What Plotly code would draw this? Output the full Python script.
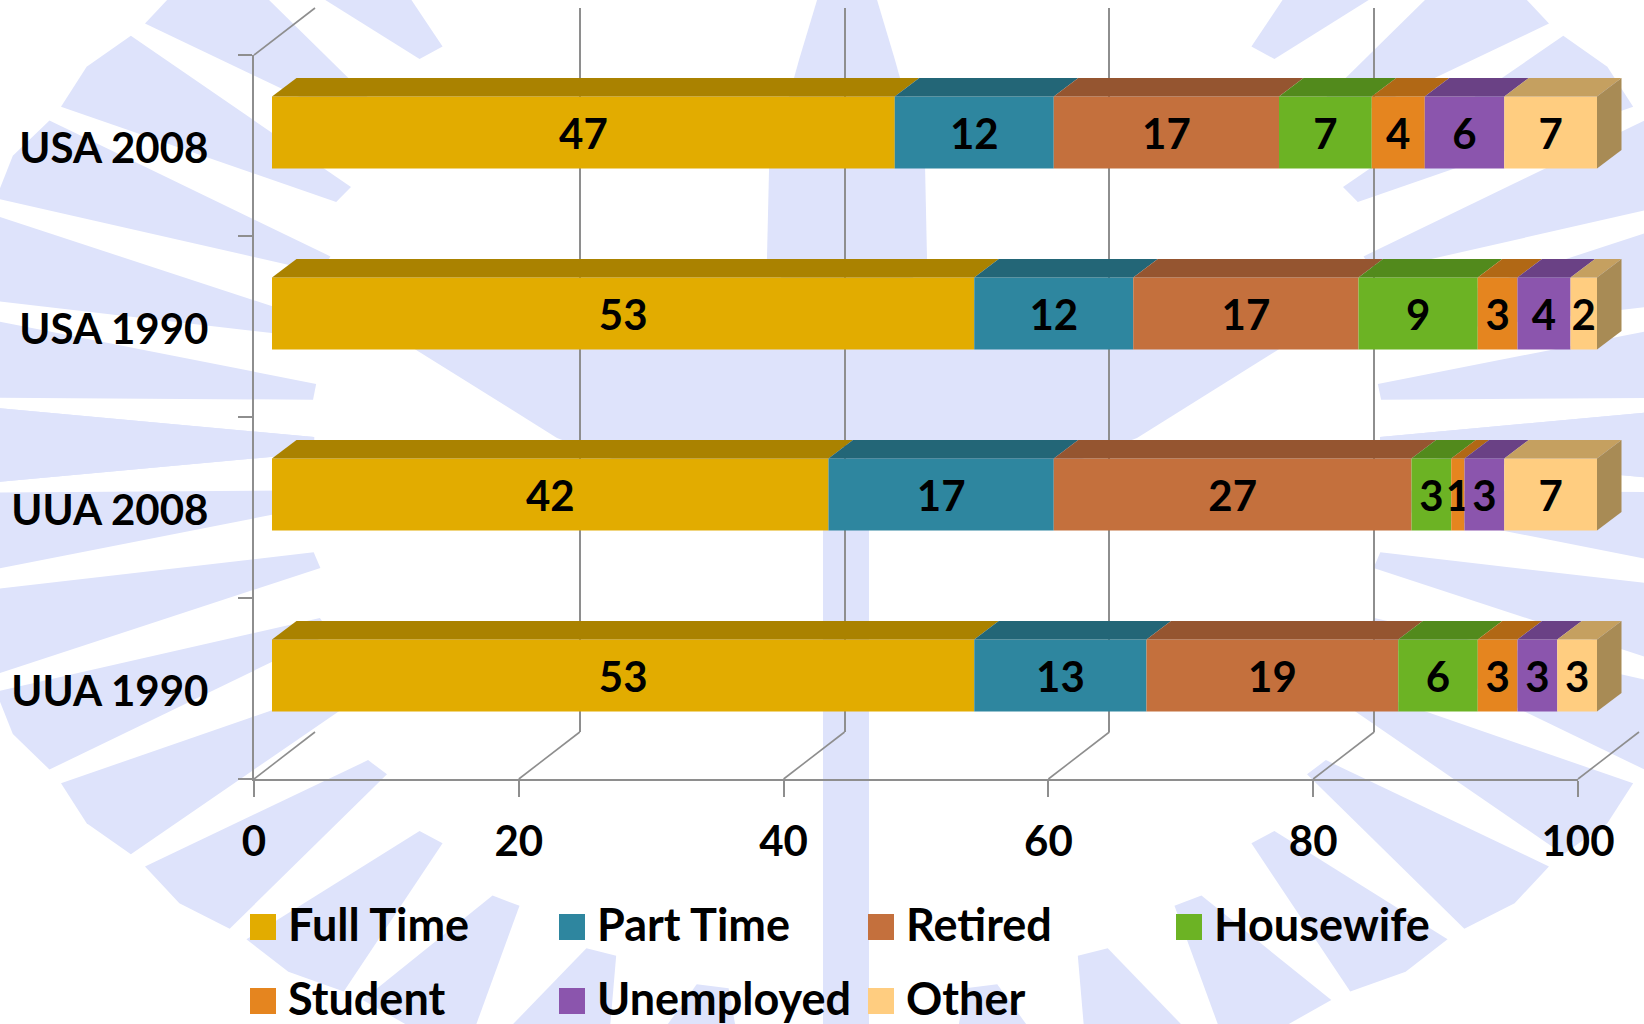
import math
import plotly.graph_objects as go

W, H = 1644, 1024
categories = ["UUA 1990", "UUA 2008", "USA 1990", "USA 2008"]
series_names = ["Full Time", "Part Time", "Retired", "Housewife", "Student", "Unemployed", "Other"]
full_time = [53, 42, 53, 47]
part_time = [13, 17, 12, 12]
retired = [19, 27, 17, 17]
housewife = [6, 3, 9, 7]
student = [3, 1, 3, 4]
unemployed = [3, 3, 4, 6]
other = [3, 7, 2, 7]
x_ticks = [0, 20, 40, 60, 80, 100]
front_colors = ["#E2AC00", "#2E869F", "#C4703D", "#6CB324", "#E5851F", "#8B55AD", "#FFCD80"]
top_colors = ["#AA8200", "#236677", "#955530", "#528A1C", "#B16815", "#6A4185", "#C5A060"]
side_color = "#A88B55"
series = [full_time, part_time, retired, housewife, student, unemployed, other]

FONT = "Lato"
GRID = "#8E8E8E"
WM = "#DEE3FB"

def fx(p): return p / W
def fy(p): return 1 - p / H
def dom_x(a, b): return [fx(a), fx(b)]
def dom_y(top, bot): return [fy(bot), fy(top)]

fig = go.Figure()
shapes = []

# watermark (seal) behind the chart
CX, CY, RX, RY = 847, 445, 919, 653
def poly(points):
    return "M " + " L ".join(f"{fx(x):.4f},{fy(y):.4f}" for x, y in points) + " Z"
def wm(points):
    shapes.append(dict(type="path", xref="paper", yref="paper", path=poly(points),
                       fillcolor=WM, line_width=0, layer="below"))
def pt(alpha, f, sx, sy):
    a = math.radians(alpha)
    return (CX + sx * RX * f * math.cos(a), CY + sy * RY * f * math.sin(a))
for k in range(0, 10):
    alpha = max(9 * k - 1, 0)
    f = 0.58 + 0.27 * math.sin(math.radians(alpha)) ** 2
    for sx in (-1, 1):
        for sy in (-1, 1):
            wm([pt(alpha - 1.2, f, sx, sy), pt(alpha + 1.2, f, sx, sy),
                pt(alpha + 3.8, 1, sx, sy), pt(alpha, 1.01, sx, sy), pt(alpha - 3.8, 1, sx, sy)])
# central shapes: vertical bar, bowl and flame
wm([(823, 500), (869, 500), (869, 1024), (823, 1024)])
bowl = [(300, 470), (348, 434), (438, 290), (480, 180), (505, 50)]
wm([(CX - h, y) for y, h in bowl] + [(CX + h, y) for y, h in reversed(bowl)])
flame = [(0, 30), (60, 48), (168, 78), (260, 80), (285, 60)]
wm([(CX - h, y) for y, h in flame] + [(CX + h, y) for y, h in reversed(flame)])

# diagonal floor and wall edges
DX, DY = 61, -47
X0, X1 = 254, 1578
FLOOR, TOP = 779, 55
def line(x0, y0, x1, y1, w=1.6):
    return dict(type="line", xref="paper", yref="paper", x0=fx(x0), y0=fy(y0), x1=fx(x1), y1=fy(y1),
                line=dict(color=GRID, width=w), layer="below")
for t in x_ticks:
    px = X0 + (X1 - X0) * t / 100
    shapes.append(line(px, FLOOR, px + DX, FLOOR + DY))
shapes.append(line(X0, TOP, X0 + DX, TOP + DY))

# back wall: gridlines only
ax_common = dict(showticklabels=False, zeroline=False, ticks="", fixedrange=True, automargin=False)
fig.add_trace(go.Scatter(x=[], y=[], xaxis="x", yaxis="y", showlegend=False))
PER = (1597 - 272) / 100
BAR_RANGE = 103
LABEL_NUDGE = 0.014
layout_axes = dict(
    xaxis=dict(domain=dom_x(X0 + DX, X1 + DX), range=[0, 100], anchor="y", showgrid=True, gridcolor=GRID,
               gridwidth=1.6, tickvals=x_ticks, showline=False, **ax_common),
    yaxis=dict(domain=dom_y(TOP + DY, FLOOR + DY), range=[0, 1], anchor="x", showgrid=False, showline=False, **ax_common),
    # front axes with ticks and labels
    xaxis2=dict(domain=dom_x(X0, X1), range=[0, 100], anchor="y2", tickvals=x_ticks, ticks="outside", ticklen=16,
                tickwidth=1.6, tickcolor=GRID, showline=True, linecolor=GRID, linewidth=2.4, showgrid=False, zeroline=False,
                tickfont=dict(family=FONT, size=42, color="#000000", weight="bold"), ticklabelstandoff=8,
                fixedrange=True, automargin=False),
    yaxis2=dict(domain=dom_y(TOP, FLOOR), range=[-0.5, 3.5], anchor="x2",
                tickvals=[i - LABEL_NUDGE for i in range(4)], ticktext=categories,
                ticks="", showline=True, linecolor=GRID, linewidth=2.4, showgrid=False, zeroline=False,
                tickfont=dict(family=FONT, size=42, color="#000000", weight="bold"), ticklabelstandoff=35,
                fixedrange=True, automargin=False,
                minor=dict(tickvals=[-0.5, 0.5, 1.5, 2.5, 3.5], ticks="outside", ticklen=14, tickwidth=1.6, tickcolor=GRID)),
    # shifted plane that holds the bars
    xaxis3=dict(domain=dom_x(272, 272 + PER * BAR_RANGE), range=[0, BAR_RANGE], anchor="y3", visible=False,
                fixedrange=True, automargin=False),
    yaxis3=dict(domain=dom_y(TOP - 13, FLOOR - 13), range=[-0.5, 3.5], anchor="x3", visible=False,
                fixedrange=True, automargin=False),
)
fig.add_trace(go.Scatter(x=[], y=[], xaxis="x2", yaxis="y2", showlegend=False))

BAR_W = 72 / 181
ODX = 24.5 / PER
ODY = 18.5 / 181
ypos = list(range(len(categories)))
base = [0] * len(categories)
for name, vals, fc, tc in zip(series_names, series, front_colors, top_colors):
    fig.add_trace(go.Bar(x=vals, y=ypos, base=base, orientation="h", name=name, width=BAR_W, xaxis="x3", yaxis="y3",
                         marker=dict(color=fc, line_width=0), text=vals, textposition="inside", textangle=0,
                         insidetextanchor="middle", constraintext="none", showlegend=False,
                         textfont=dict(family=FONT, size=42, color="#000000", weight="bold")))
    for yi, b, v in zip(ypos, base, vals):
        t = yi + BAR_W / 2
        fig.add_trace(go.Scatter(x=[b, b + v, b + v + ODX, b + ODX, b], y=[t, t, t + ODY, t + ODY, t], mode="lines",
                                 fill="toself", fillcolor=tc, line=dict(width=0), xaxis="x3", yaxis="y3",
                                 showlegend=False, hoverinfo="skip"))
    base = [b + v for b, v in zip(base, vals)]
for yi, b in zip(ypos, base):
    t, u = yi + BAR_W / 2, yi - BAR_W / 2
    fig.add_trace(go.Scatter(x=[b, b + ODX, b + ODX, b, b], y=[t, t + ODY, u + ODY, u, t], mode="lines",
                             fill="toself", fillcolor=side_color, line=dict(width=0), xaxis="x3", yaxis="y3",
                             showlegend=False, hoverinfo="skip"))

# legend: two rows, four columns
annotations = []
cols = [250, 559, 868, 1176]
rows = [927, 1001]
for i, (name, c) in enumerate(zip(series_names, front_colors)):
    cx, cy = cols[i % 4], rows[i // 4]
    shapes.append(dict(type="rect", xref="paper", yref="paper", x0=fx(cx), x1=fx(cx + 26),
                       y0=fy(cy + 13), y1=fy(cy - 13), fillcolor=c, line_width=0))
    annotations.append(dict(xref="paper", yref="paper", x=fx(cx + 36), y=fy(cy - 3), text=name, showarrow=False,
                            xanchor="left", yanchor="middle", font=dict(family=FONT, size=45, color="#000000", weight="bold")))

fig.update_layout(template="none", width=W, height=H, margin=dict(l=0, r=0, t=0, b=0), paper_bgcolor="#FFFFFF",
                  plot_bgcolor="rgba(0,0,0,0)", barmode="overlay", showlegend=False, shapes=shapes,
                  annotations=annotations, **layout_axes)
fig.write_html("out.html", config=dict(displayModeBar=False),
               post_script="document.body.style.margin='0';document.body.style.overflow='hidden';")
